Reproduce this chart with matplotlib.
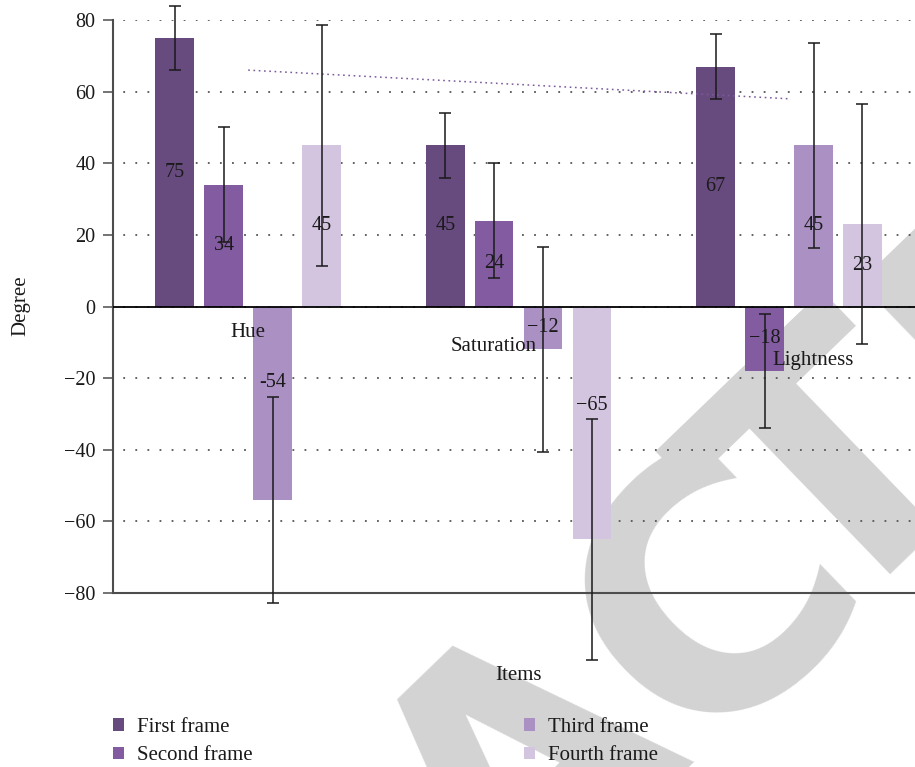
import matplotlib.pyplot as plt
import matplotlib.transforms as mtransforms
import numpy as np

plt.rcParams['font.family'] = ['Liberation Serif', 'DejaVu Serif']
plt.rcParams['lines.scale_dashes'] = False
plt.rcParams['axes.unicode_minus'] = True

items = ['Hue', 'Saturation', 'Lightness']
frames = ['First frame', 'Second frame', 'Third frame', 'Fourth frame']
first = [75, 45, 67]
second = [34, 24, -18]
third = [-54, -12, 45]
fourth = [45, -65, 23]
first_err = [9, 9, 9]
second_err = [16, 16, 16]
third_err = [28.7, 28.7, 28.7]
fourth_err = [33.6, 33.6, 33.6]
colors = ['#684b7e', '#835ba0', '#ab90c3', '#d3c4df']

# faint dotted guide running from Hue to Lightness
guide_x = [0, 2]
guide_y = [66, 58]

series = [first, second, third, fourth]
errors = [first_err, second_err, third_err, fourth_err]

W, H = 915, 767
fig = plt.figure(figsize=(W / 100, H / 100), dpi=100)
ax = fig.add_axes([113 / W, 174 / H, 1 - 113 / W, (747 - 174) / H])
ax.set_facecolor('none')

# watermark, one letter at a time along a slanted baseline
wm_angle = 44
wm_word = 'RETRACTED'
wm_steps = [-1240, -1010, -770, -500, -259, 0, 176, 418, 665]
t = np.deg2rad(wm_angle)
u = np.array([np.cos(t), np.sin(t)])
origin = np.array([786.0, H - 672.0])
for ch, s in zip(wm_word, wm_steps):
    px, py = origin + s * u
    fig.text(px, py, ch, transform=mtransforms.IdentityTransform(),
             fontsize=248, fontweight='bold', family='DejaVu Sans',
             color='#d3d3d3', rotation=wm_angle, rotation_mode='anchor',
             ha='center', va='baseline', zorder=-5)

x = np.arange(len(items))
step, width = 0.181, 0.143
ink = '#1a1a1a'

# a couple of value labels sit higher than the bar midpoint
label_frac = {(0, 2): 0.395, (1, 3): 0.425}

containers = []
for j, (vals, err) in enumerate(zip(series, errors)):
    pos = x + (j - 1.5) * step
    bc = ax.bar(pos, vals, width, color=colors[j], label=frames[j], yerr=err,
                error_kw=dict(ecolor=ink, elinewidth=1.1, capsize=4, capthick=1.1),
                zorder=2)
    for patch in bc.patches:
        patch.set_clip_on(False)
    data_line, caplines, barlines = bc.errorbar.lines
    for art in list(caplines) + list(barlines):
        art.set_clip_on(False)
        art.set_zorder(4)
    containers.append(bc)

    for k, v in enumerate(vals):
        ly = v * label_frac.get((k, j), 0.5)
        txt = f'{v}' if (k, j) == (0, 2) else f'{v}'.replace('-', '\u2212')
        ax.text(pos[k], ly, txt, ha='center', va='center', fontsize=14.5,
                color=ink, zorder=5)

ax.plot(guide_x, guide_y, color='#7b5a9c', lw=1.1, linestyle=(0, (1.2, 2.6)),
        zorder=3)

# category names sit just under the zero line, stepping down
item_pos = [(0.0, -7.3), (0.909, -11.2), (2.089, -15.1)]
for name, (tx, ty) in zip(items, item_pos):
    ax.text(tx, ty, name, ha='center', va='center', fontsize=15, color=ink,
            zorder=5)

ax.axhline(0, color='black', lw=1.3, zorder=3)

ax.set_xlim(-0.5, (W - 248) / 270.5)
ax.set_ylim(-80, 80)
ax.set_yticks(np.arange(-80, 81, 20))
ax.set_xticks([])
ax.yaxis.grid(True, color='#555555', linewidth=1.3,
              linestyle=(1.3, (1.3, 7.4)))
ax.set_axisbelow(True)
for side in ['top', 'right']:
    ax.spines[side].set_visible(False)
for side in ['left', 'bottom']:
    ax.spines[side].set_color('#4d4d4d')
    ax.spines[side].set_linewidth(1.5)
ax.tick_params(axis='y', direction='out', length=7.2, width=1.1,
               color='#4d4d4d', labelsize=14.5, labelcolor=ink, pad=5.5)

fig.text(21 / W, 1 - 306 / H, 'Degree', rotation=90, ha='center',
         va='center', fontsize=15, color=ink)
fig.text(519 / W, 1 - 676 / H, 'Items', ha='center', va='center',
         fontsize=15, color=ink)

leg_kw = dict(frameon=False, fontsize=15, handlelength=0.53, handleheight=0.53,
              handletextpad=0.62, labelspacing=0.44, borderpad=0,
              borderaxespad=0, loc='upper left', labelcolor=ink)
handles = [c.patches[0] for c in containers]
fig.legend(handles[:2], frames[:2], bbox_to_anchor=(113 / W, 1 - 718 / H),
           **leg_kw)
fig.legend(handles[2:], frames[2:], bbox_to_anchor=(524 / W, 1 - 718 / H),
           **leg_kw)

fig.savefig('out.png', dpi=100)
